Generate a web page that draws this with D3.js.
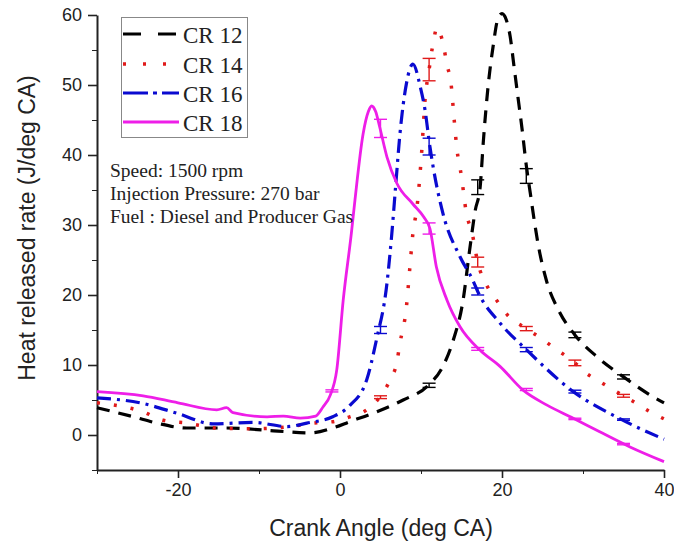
<!DOCTYPE html>
<html>
<head>
<meta charset="utf-8">
<script src="https://cdn.jsdelivr.net/npm/d3@7"></script>
<style>
    body { margin: 0; background: #fff; }
    .axis path, .axis line { stroke: #222; }
    .axis text { font-family: "Liberation Sans", Arial, sans-serif; fill: #222; }
</style>
</head>
<body>
<div id="chart"></div>
<script>
// 数据: 曲柄角 / 放热率
const cr12X = [-30, -25.5, -22.6, -18.9, -14, -8.2, -3.7, -0.9, 1.2, 4.5, 7.8, 10.9, 12.7, 14, 15.2, 16, 16.7, 17.3, 17.7, 18.3, 18.9, 19.5, 20, 20.5, 21, 21.5, 22, 22.5, 23, 23.5, 24, 24.5, 25.5, 27, 29, 31.7, 35, 38.6, 40];
const cr12Y = [3.9, 2.6, 1.7, 1.0, 1.0, 0.6, 0.3, 1.0, 1.9, 3.3, 5.0, 7.1, 9.8, 13.6, 19.3, 26.4, 32.1, 35.4, 42, 50, 55.5, 59.5, 60.2, 59.4, 57, 52.5, 48, 43.5, 38.5, 34.5, 30.5, 27, 22, 17.8, 14.3, 11.2, 8.3, 5.5, 4.6];

const cr14X = [-30, -28.6, -24.3, -21.8, -18.9, -15.2, -10.3, -6.2, -3.3, -0.9, 1.2, 3.3, 4.9, 6.2, 7, 7.4, 8.2, 8.6, 9, 9.5, 10.1, 10.5, 11, 11.5, 12, 12.4, 12.8, 13.2, 13.7, 14.1, 14.4, 15, 15.6, 16.3, 17, 18.2, 19.3, 20.7, 23, 24.7, 26.5, 29, 30.2, 32.1, 35, 36.2, 38.3, 40];
const cr14Y = [4.6, 4.4, 3.3, 2.1, 1.7, 1.0, 0.9, 1.2, 1.7, 1.9, 2.6, 3.6, 5.4, 7.9, 10.3, 13.1, 18.3, 23.6, 28.8, 32.5, 40.7, 47.9, 52.2, 56, 58.2, 57.3, 55.5, 52.9, 50.3, 45, 41.2, 36.9, 31.7, 28.9, 24.7, 21.2, 19.3, 17.1, 15.2, 13.9, 12.4, 10.3, 9, 7.6, 5.6, 4.8, 3.3, 2.3];

const cr16X = [-30, -24.7, -20.1, -15.7, -10.7, -6.5, -4.1, -0.9, 1.2, 3.3, 4.5, 5.8, 6.4, 6.9, 7.4, 8.2, 9, 9.9, 10.5, 11.1, 11.5, 12.7, 14.8, 16.4, 17, 19.75, 23, 28.8, 34.6, 40];
const cr16Y = [5.3, 4.6, 3.1, 1.6, 1.8, 1.2, 1.7, 2.6, 4.2, 7.9, 13.6, 21.7, 28.8, 36, 43, 50.2, 53, 49.8, 46.4, 41.2, 38.3, 31.7, 25.5, 22.1, 20.5, 16, 12.2, 6.2, 2.3, -0.6];

const cr18X = [-30, -24.3, -20, -15.2, -14, -13.2, -9, -7, -4.9, -3, -2.1, -1.2, -0.4, 0.4, 1.4, 1.85, 2.85, 3.5, 3.9, 4.4, 4.9, 5.8, 7, 9, 10.3, 11.1, 11.9, 13.2, 14.8, 17.3, 19.75, 22.6, 25.5, 28.8, 32, 35.8, 40];
const cr18Y = [6.2, 5.6, 4.6, 3.6, 3.9, 3.2, 2.6, 2.7, 2.4, 2.7, 4.0, 5.7, 9.3, 19.3, 28.8, 33.6, 43, 46.2, 47, 46.2, 44, 39.7, 36, 33, 31.2, 29.5, 24, 19.3, 15.5, 12.1, 9.8, 6.4, 4.3, 2.4, 0.5, -1.7, -3.8];

// 误差棒 (中心值, 半宽)
const cr12ErrX = [11, 17, 23, 29, 35];
const cr12ErrY = [7.1, 35.4, 37.0, 14.3, 8.3];
const cr12ErrE = [0.3, 1.05, 1.05, 0.4, 0.3];
const cr14ErrX = [5, 11, 17, 23, 29, 35];
const cr14ErrY = [5.4, 52.2, 24.7, 15.2, 10.3, 5.6];
const cr14ErrE = [0.2, 1.6, 0.7, 0.3, 0.4, 0.2];
const cr16ErrX = [5, 11, 17, 23, 29, 35];
const cr16ErrY = [15.0, 41.2, 20.5, 12.2, 6.2, 2.2];
const cr16ErrE = [0.5, 1.2, 0.5, 0.3, 0.2, 0.1];
const cr18ErrX = [-1, 5, 11, 17, 23, 29, 35];
const cr18ErrY = [6.3, 43.8, 29.5, 12.3, 6.5, 2.3, -1.3];
const cr18ErrE = [0.15, 1.3, 0.8, 0.2, 0.15, 0.1, 0.1];

const seriesNames = ["CR 12", "CR 14", "CR 16", "CR 18"];
const xMajorTicks = [-20, 0, 20, 40];
const xMinorTicks = [-30, -10, 10, 30];
const yMajorTicks = [0, 10, 20, 30, 40, 50, 60];
const yMinorTicks = [-5, 5, 15, 25, 35, 45, 55];
const notes = ["Speed: 1500 rpm", "Injection Pressure: 270 bar", "Fuel : Diesel and Producer Gas"];

// 样式
const styles = [
    {color: "#000000", dash: "13,9", width: 3.2},
    {color: "#e01a1a", dash: "3,14", width: 3.5},
    {color: "#0a0ad0", dash: "14,6,3,6", width: 3.2},
    {color: "#ee1ee8", dash: null, width: 2.8},
];
const legendDash = ["18,17", "3,17", "25,5,4,5", null];

const W = 674, H = 544;
const svg = d3.select("#chart").append("svg")
    .attr("width", W)
    .attr("height", H);

const x = d3.scaleLinear().domain([-30, 40]).range([97, 664]);
const y = d3.scaleLinear().domain([-5, 60]).range([470, 15]);
const plainNum = d => String(d);

// 坐标轴
svg.append("g")
    .attr("class", "axis")
    .attr("transform", "translate(0," + y(-5) + ")")
    .call(d3.axisBottom(x).tickValues(xMinorTicks).tickSize(4).tickFormat("").tickSizeOuter(0))
    .call(g => g.select(".domain").remove());
svg.append("g")
    .attr("class", "axis")
    .attr("transform", "translate(0," + y(-5) + ")")
    .call(d3.axisBottom(x).tickValues(xMajorTicks).tickSize(8).tickSizeOuter(0).tickPadding(5).tickFormat(plainNum))
    .call(g => g.select(".domain").attr("stroke-width", 2))
    .call(g => g.selectAll("line").attr("stroke-width", 1.6))
    .call(g => g.selectAll("text").attr("font-size", 18));

svg.append("g")
    .attr("class", "axis")
    .attr("transform", "translate(" + x(-30) + ",0)")
    .call(d3.axisLeft(y).tickValues(yMinorTicks).tickSize(5).tickFormat("").tickSizeOuter(0))
    .call(g => g.select(".domain").remove());
svg.append("g")
    .attr("class", "axis")
    .attr("transform", "translate(" + x(-30) + ",0)")
    .call(d3.axisLeft(y).tickValues(yMajorTicks).tickSize(9).tickSizeOuter(0).tickPadding(6).tickFormat(plainNum))
    .call(g => g.select(".domain").attr("stroke-width", 2))
    .call(g => g.selectAll("line").attr("stroke-width", 1.6))
    .call(g => g.selectAll("text").attr("font-size", 18));

// 轴标题
svg.append("text")
    .attr("x", 381)
    .attr("y", 536)
    .attr("text-anchor", "middle")
    .attr("font-family", "Liberation Sans, Arial, sans-serif")
    .attr("font-size", 23)
    .attr("fill", "#222")
    .text("Crank Angle (deg CA)");
svg.append("text")
    .attr("transform", "translate(35,228) rotate(-90)")
    .attr("text-anchor", "middle")
    .attr("font-family", "Liberation Sans, Arial, sans-serif")
    .attr("font-size", 23)
    .attr("fill", "#222")
    .text("Heat released rate (J/deg CA)");

// 曲线
const allX = [cr12X, cr14X, cr16X, cr18X];
const allY = [cr12Y, cr14Y, cr16Y, cr18Y];
const line = d3.line()
    .x(d => x(d[0]))
    .y(d => y(d[1]))
    .curve(d3.curveMonotoneX);

for (let i = 0; i < 4; i++) {
    const pts = allX[i].map((v, j) => [v, allY[i][j]]);
    svg.append("path")
        .datum(pts)
        .attr("fill", "none")
        .attr("stroke", styles[i].color)
        .attr("stroke-width", styles[i].width)
        .attr("stroke-dasharray", styles[i].dash)
        .attr("d", line);
}

// 误差棒
const errX = [cr12ErrX, cr14ErrX, cr16ErrX, cr18ErrX];
const errY = [cr12ErrY, cr14ErrY, cr16ErrY, cr18ErrY];
const errE = [cr12ErrE, cr14ErrE, cr16ErrE, cr18ErrE];
const cap = 6.5;
for (let i = 0; i < 4; i++) {
    const g = svg.append("g")
        .attr("stroke", styles[i].color)
        .attr("stroke-width", 1.4);
    errX[i].forEach(function (v, j) {
        const cx = x(v), hi = y(errY[i][j] + errE[i][j]), lo = y(errY[i][j] - errE[i][j]);
        g.append("line").attr("x1", cx).attr("x2", cx).attr("y1", hi).attr("y2", lo);
        g.append("line").attr("x1", cx - cap).attr("x2", cx + cap).attr("y1", hi).attr("y2", hi);
        g.append("line").attr("x1", cx - cap).attr("x2", cx + cap).attr("y1", lo).attr("y2", lo);
    });
}

// 图例
svg.append("rect")
    .attr("x", 121.5)
    .attr("y", 17.5)
    .attr("width", 126)
    .attr("height", 120)
    .attr("fill", "#fff")
    .attr("stroke", "#888")
    .attr("stroke-width", 1);

const legendY = [34, 64, 93, 122];
seriesNames.forEach(function (name, i) {
    svg.append("line")
        .attr("x1", 123)
        .attr("x2", 179)
        .attr("y1", legendY[i])
        .attr("y2", legendY[i])
        .attr("stroke", styles[i].color)
        .attr("stroke-width", styles[i].width)
        .attr("stroke-dasharray", legendDash[i]);
    svg.append("text")
        .attr("x", 183)
        .attr("y", legendY[i] + 8.5)
        .attr("font-family", "Liberation Serif, Times New Roman, serif")
        .attr("font-size", 23)
        .attr("fill", "#222")
        .text(name);
});

// 注释文字
const noteY = [177, 200, 223];
notes.forEach(function (t, i) {
    svg.append("text")
        .attr("x", 110)
        .attr("y", noteY[i])
        .attr("font-family", "Liberation Serif, Times New Roman, serif")
        .attr("font-size", 19.5)
        .attr("fill", "#222")
        .text(t);
});
</script>
</body>
</html>
